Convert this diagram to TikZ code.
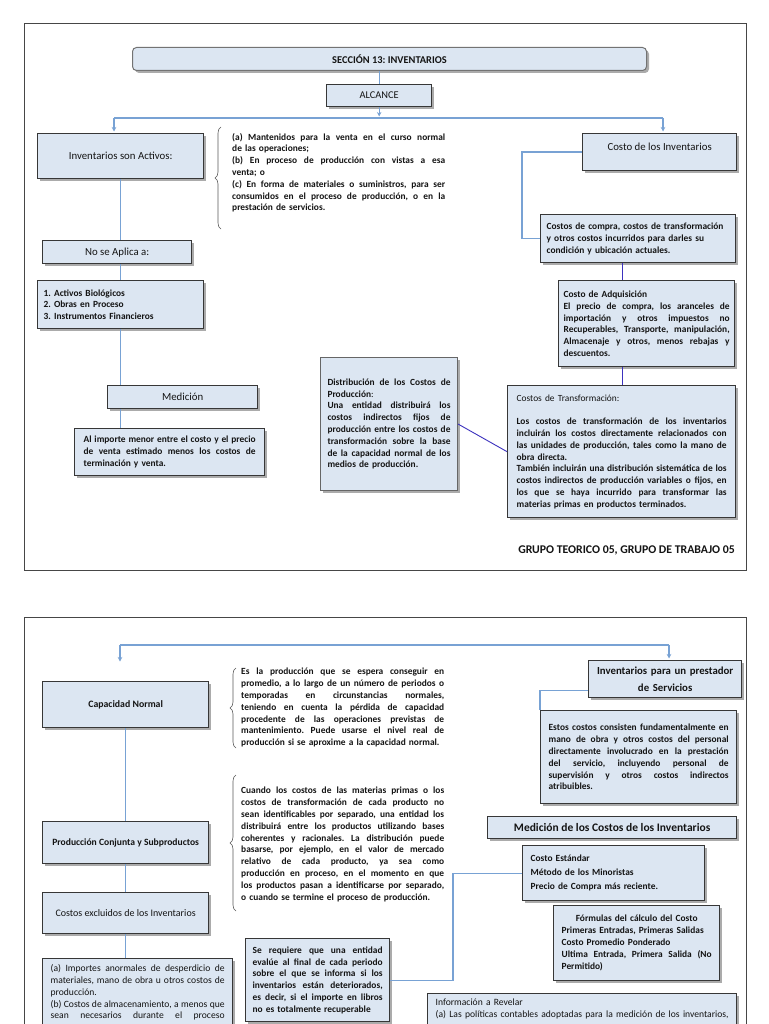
\documentclass[tikz,border=0pt]{standalone}
\usepackage{fontspec}
\setmainfont{Carlito}
\frenchspacing
\usetikzlibrary{shadows,decorations.pathreplacing,arrows.meta,calc}
\definecolor{boxfill}{RGB}{220,230,242}
\definecolor{boxline}{RGB}{55,55,55}
\definecolor{lb}{RGB}{120,162,212}
\definecolor{db}{RGB}{60,50,190}
\definecolor{frm}{RGB}{70,70,70}
\definecolor{txt}{RGB}{20,20,20}
\newcommand\jline[1]{{\spaceskip=0.226em plus 1fil minus 0.06em\relax\makebox[\hsize][s]{#1}}\par}
\newcommand\pline[1]{\mbox{#1}\par}
\newcommand\cenline[1]{\makebox[\hsize][c]{#1}\par}
\newcommand\fb{\fontsize{9.4}{11.8}\selectfont\bfseries\frenchspacing}
\newcommand\fr{\fontsize{9.6}{11.8}\selectfont\frenchspacing}
\newcommand\fl{\fontsize{10.8}{13}\selectfont}
\tikzset{
  bx/.style={draw=boxline, line width=1.3pt, fill=boxfill,
    drop shadow={shadow xshift=2.5pt, shadow yshift=-2.5pt, fill=black!60, opacity=0.55},
    inner ysep=0pt, text=txt, anchor=north west},
  lbl/.style={bx, font=\fl, align=center, inner xsep=0pt},
  con/.style={draw=lb, line width=1.3pt},
  conarr/.style={con, -{Stealth[length=4.5pt,width=4.5pt]}, shorten >=1.5pt},
  dcon/.style={draw=db, line width=0.9pt},
  brc/.style={draw=black!65, line width=0.6pt, decorate, decoration={brace, amplitude=6pt}},
  frame/.style={draw=frm, line width=1pt},
  ptxt/.style={anchor=north west, inner sep=0pt, text=txt, font=\fb}
}
\begin{document}
\begin{tikzpicture}[x=1pt,y=-1pt]
\useasboundingbox (0,0) rectangle (768,1024);
\fill[white] (0,0) rectangle (768,1024);
\clip (0,0) rectangle (768,1024);

% ---------- page 1 ----------
\draw[frame] (24,24) rectangle (746,570);

\node[bx, rounded corners=4pt, draw=black!55, line width=1pt, minimum width=514pt, minimum height=23pt,
  font=\fontsize{10.4}{12}\selectfont\bfseries] (title) at (132,47) {SECCIÓN 13: INVENTARIOS};
\node[lbl, font=\fontsize{10.4}{12}\selectfont, minimum width=105pt, minimum height=22pt] (alc) at (326,84) {ALCANCE};
\draw[con] (alc.north |- title.south) -- (alc.north);

\coordinate (hL) at (114,118);
\coordinate (hR) at (663,118);
\draw[conarr] (alc.south) -- (alc.south |- hL);
\draw[con] (hL) -- (hR);

\node[lbl, minimum width=166pt, minimum height=45pt] (invA) at (37,133) {Inventarios son Activos:};
\node[lbl, minimum width=154pt, minimum height=37pt, text depth=11pt] (cinv) at (582,133) {Costo de los Inventarios};
\draw[conarr] (hL) -- (hL |- invA.north);
\draw[conarr] (hR) -- (hR |- cinv.north);

\node[ptxt, text width=213pt] (txtA) at (232,133) {%
\jline{(a) Mantenidos para la venta en el curso normal}
\pline{de las operaciones;}
\jline{(b) En proceso de producción con vistas a esa}
\pline{venta; o}
\jline{(c) En forma de materiales o suministros, para ser}
\jline{consumidos en el proceso de producción, o en la}
\pline{prestación de servicios.}};
\draw[brc] (221,229) -- (221,127);

\node[lbl, minimum width=149pt, minimum height=23pt] (noap) at (42,240) {No se Aplica a:};
\node[bx, font=\fontsize{9.4}{11.5}\selectfont\bfseries, align=left, text width=154pt, inner xsep=6pt,
  minimum width=166pt, minimum height=48pt] (list1) at (37,280) {%
\pline{1. Activos Biológicos}
\pline{2. Obras en Proceso}
\pline{3. Instrumentos Financieros}};
\node[lbl, minimum width=150pt, minimum height=23pt] (med) at (107,385) {Medición};
\node[bx, font=\fb, align=left, text width=172pt, inner xsep=9pt, minimum width=190pt, minimum height=47pt] (alimp) at (74,428) {%
\jline{Al importe menor entre el costo y el precio}
\jline{de venta estimado menos los costos de}
\pline{terminación y venta.}};

\draw[con] (invA.south) -- (invA.south |- noap.north);
\draw[con] (invA.south |- noap.south) -- (invA.south |- list1.north);
\draw[con] (list1.south) -- (list1.south |- med.north);
\draw[con] (list1.south |- med.south) -- (list1.south |- alimp.north);

\node[bx, font=\fb, align=left, text width=183pt, inner xsep=6pt, minimum width=195pt, minimum height=48pt] (ccomp) at (540,214) {%
\pline{Costos de compra, costos de transformación}
\pline{y otros costos incurridos para darles su}
\pline{condición y ubicación actuales.}};
\draw[con] (cinv.west) -- ++(-60,0) |- (ccomp.west);

\node[bx, font=\fb, align=left, text width=166pt, inner xsep=5pt, minimum width=176pt, minimum height=86pt] (cadq) at (558,280) {%
\pline{Costo de Adquisición}
\jline{El precio de compra, los aranceles de}
\jline{importación y otros impuestos no}
\jline{Recuperables, Transporte, manipulación,}
\jline{Almacenaje y otros, menos rebajas y}
\pline{descuentos.}};

\node[bx, font=\fb, align=left, text width=210pt, inner xsep=9pt, minimum width=228pt, minimum height=132pt] (ctrans) at (507,385) {%
\pline{\mdseries Costos de Transformación:}
\mbox{}\par
\jline{Los costos de transformación de los inventarios}
\jline{incluirán los costos directamente relacionados con}
\jline{las unidades de producción, tales como la mano de}
\pline{obra directa.}
\jline{También incluirán una distribución sistemática de los}
\jline{costos indirectos de producción variables o fijos, en}
\jline{los que se haya incurrido para transformar las}
\pline{materias primas en productos terminados.}};

\coordinate (xd) at (622,0);
\draw[dcon] (ccomp.south -| xd) -- (cadq.north -| xd);
\draw[dcon] (cadq.south -| xd) -- (ctrans.north -| xd);

\node[bx, draw=black!60, line width=1pt, font=\fb, align=left, text width=123pt, inner xsep=7pt,
  minimum width=137pt, minimum height=133pt] (dist) at (320,357) {%
\jline{Distribución de los Costos de}
\pline{Producción{\mdseries:}}
\jline{Una entidad distribuirá los}
\jline{costos indirectos fijos de}
\jline{producción entre los costos de}
\jline{transformación sobre la base}
\jline{de la capacidad normal de los}
\pline{medios de producción.}};
\draw[dcon] (dist.east) -- (ctrans.west);

\node[anchor=east, inner sep=0pt, text=txt, font=\fontsize{11.8}{13}\selectfont\bfseries] (grupo) at (735,550) {GRUPO TEORICO 05, GRUPO DE TRABAJO 05};

% ---------- page 2 ----------
\draw[frame] (24,617) rectangle (746,1040);

\coordinate (gL) at (120,645);
\coordinate (gR) at (669,645);
\coordinate (gLe) at (120,663);
\draw[con] (gL) -- (gR);
\draw[conarr] (gL) -- (gLe);

\node[lbl, font=\fontsize{9.8}{12}\selectfont\bfseries, minimum width=166pt, minimum height=46pt] (capn) at (42,681) {Capacidad Normal};

\node[ptxt, text width=203pt] (txtB) at (241,668) {%
\jline{Es la producción que se espera conseguir en}
\jline{promedio, a lo largo de un número de periodos o}
\jline{temporadas en circunstancias normales,}
\jline{teniendo en cuenta la pérdida de capacidad}
\jline{procedente de las operaciones previstas de}
\jline{mantenimiento. Puede usarse el nivel real de}
\pline{producción si se aproxime a la capacidad normal.}};
\draw[brc] (236,748) -- (236,668);

\node[bx, font=\fontsize{10.8}{16.5}\selectfont\bfseries, align=center, text width=153pt, inner xsep=0pt,
  minimum width=153pt, minimum height=37pt] (prest) at (588,660) {Inventarios para un prestador\\de Servicios};
\draw[conarr] (gR) -- (gR |- prest.north);

\node[bx, font=\fb, align=left, text width=180pt, inner xsep=8pt, minimum width=196pt, minimum height=93pt] (estos) at (540,710) {%
\jline{Estos costos consisten fundamentalmente en}
\jline{mano de obra y otros costos del personal}
\jline{directamente involucrado en la prestación}
\jline{del servicio, incluyendo personal de}
\jline{supervisión y otros costos indirectos}
\pline{atribuibles.}};
\draw[con] ([yshift=-11.5pt]prest.west) -- ++(-48,0) -- (estos.north west);

\node[lbl, font=\fontsize{11.5}{13}\selectfont\bfseries, minimum width=249pt, minimum height=22pt] (medc) at (487,816) {Medición de los Costos de los Inventarios};

\node[bx, font=\fontsize{9.4}{14}\selectfont\bfseries, align=left, text width=166pt, inner xsep=8pt,
  minimum width=182pt, minimum height=55pt] (cest) at (522,845) {%
\pline{Costo Estándar}
\pline{Método de los Minoristas}
\pline{Precio de Compra más reciente.}};

\node[bx, font=\fontsize{9.4}{12}\selectfont\bfseries, align=left, text width=150pt, inner xsep=8pt,
  minimum width=166pt, minimum height=75pt] (form) at (553,905) {%
\cenline{Fórmulas del cálculo del Costo}
\pline{Primeras Entradas, Primeras Salidas}
\pline{Costo Promedio Ponderado}
\jline{Ultima Entrada, Primera Salida (No}
\pline{Permitido)}};

\node[bx, font=\fr, align=left, text width=293pt, inner xsep=8pt, inner ysep=5pt, minimum width=309pt] (info) at (427,993) {%
\pline{Información a Revelar}
\jline{(a) Las políticas contables adoptadas para la medición de los inventarios,}
\vspace*{12pt}};

\node[bx, font=\fb, align=left, text width=130pt, inner xsep=7pt, minimum width=144pt, minimum height=83pt] (seq) at (245,938) {%
\jline{Se requiere que una entidad}
\jline{evalúe al final de cada periodo}
\jline{sobre el que se informa si los}
\jline{inventarios están deteriorados,}
\jline{es decir, si el importe en libros}
\pline{no es totalmente recuperable}};
\draw[con] (cest.west) -- ++(-69,0) |- (seq.east);

\node[lbl, font=\fontsize{9.6}{12}\selectfont\bfseries, minimum width=166pt, minimum height=42pt] (prodc) at (42,821) {Producción Conjunta y Subproductos};
\node[lbl, font=\fontsize{10}{12}\selectfont, minimum width=166pt, minimum height=41pt] (costex) at (42,892) {Costos excluidos de los Inventarios};

\node[ptxt, text width=203pt] (txtC) at (241,787) {%
\jline{Cuando los costos de las materias primas o los}
\jline{costos de transformación de cada producto no}
\jline{sean identificables por separado, una entidad los}
\jline{distribuirá entre los productos utilizando bases}
\jline{coherentes y racionales. La distribución puede}
\jline{basarse, por ejemplo, en el valor de mercado}
\jline{relativo de cada producto, ya sea como}
\jline{producción en proceso, en el momento en que}
\jline{los productos pasan a identificarse por separado,}
\pline{o cuando se termine el proceso de producción.}};
\draw[brc] (236,911) -- (236,775);

\node[bx, font=\fr, align=left, text width=174pt, inner xsep=8pt, inner ysep=6pt, minimum width=190pt] (imp) at (42,958) {%
\jline{(a) Importes anormales de desperdicio de}
\jline{materiales, mano de obra u otros costos de}
\pline{producción.}
\jline{(b) Costos de almacenamiento, a menos que}
\jline{sean necesarios durante el proceso}
\vspace*{12pt}};

\draw[con] (capn.south) -- (prodc.north);
\draw[con] (prodc.south) -- (costex.north);
\draw[con] (costex.south) -- (costex.south |- imp.north);
\end{tikzpicture}
\end{document}
